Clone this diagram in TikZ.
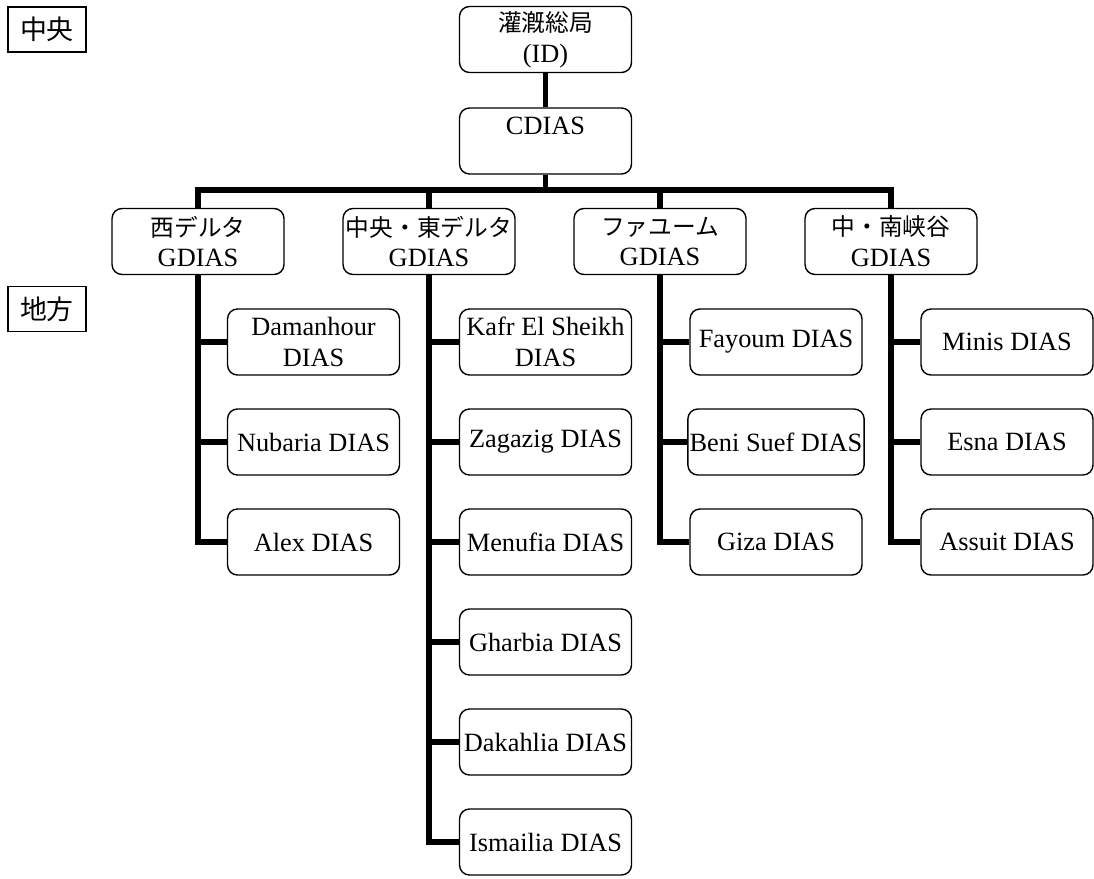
\documentclass[tikz,border=0pt]{standalone}
\usepackage{fontspec}
\setmainfont{Liberation Serif}
\newfontfamily\jp[Scale=0.9]{Noto Sans CJK JP}
\usetikzlibrary{positioning}

\begin{document}
\begin{tikzpicture}[x=0.02cm, y=-0.02cm,
        box/.style={draw, rounded corners=0.2cm, line width=0.8pt, minimum width=3.44cm, minimum height=1.32cm, inner sep=1pt, align=center, font=\fontsize{15}{17.5}\selectfont},
        tag/.style={draw, line width=1.1pt, minimum width=1.56cm, minimum height=0.9cm, inner sep=0pt, font=\jp\fontsize{17}{18}\selectfont},
        link/.style={line width=3.2pt}]
        \useasboundingbox (0,0) rectangle (1094,878);

        % level tags
        \node[tag] (central) at (47,29.5) {中央};
        \node[tag] (local) at (47,309) {地方};

        % head office
        \node[box] (id) at (545.5,39.5) {{\jp 灌漑総局}\\(ID)};
        \node[box] (cdias) at (545.5,141) {CDIAS\\~};

        % GDIAS
        \node[box] (west) at (198,241.5) {{\jp 西デルタ}\\GDIAS};
        \node[box] (east) at (429,241.5) {{\jp 中央・東デルタ}\\GDIAS};
        \node[box] (fayoum) at (660,241.5) {{\jp ファユーム}\\GDIAS};
        \node[box] (south) at (891,241.5) {{\jp 中・南峡谷}\\GDIAS};

        % DIAS
        \node[box] (damanhour) at (313.5,342) {Damanhour\\DIAS};
        \node[box] (nubaria) at (313.5,442) {Nubaria DIAS};
        \node[box] (alex) at (313.5,542) {Alex DIAS};

        \node[box] (kafr) at (545.5,342) {Kafr El Sheikh\\DIAS};
        \node[box] (zagazig) at (545.5,442) {Zagazig DIAS};
        \node[box] (menufia) at (545.5,542) {Menufia DIAS};
        \node[box] (gharbia) at (545.5,642) {Gharbia DIAS};
        \node[box] (dakahlia) at (545.5,742) {Dakahlia DIAS};
        \node[box] (ismailia) at (545.5,842) {Ismailia DIAS};

        \node[box] (fayoumd) at (776,342) {Fayoum DIAS};
        \node[box] (benisuef) at (776,442) {Beni Suef DIAS};
        \node[box] (giza) at (776,542) {Giza DIAS};

        \node[box] (minis) at (1007,342) {Minis DIAS};
        \node[box] (esna) at (1007,442) {Esna DIAS};
        \node[box] (assuit) at (1007,542) {Assuit DIAS};

        % ID -> CDIAS -> GDIAS
        \coordinate (bus) at (545.5,190);
        \draw[link] (id) -- (cdias);
        \draw[link] (cdias) -- (bus);
        \draw[link] (west.north) |- (bus) -| (south.north);
        \draw[link] (east.north) -- (east.north |- bus);
        \draw[link] (fayoum.north) -- (fayoum.north |- bus);

        % GDIAS -> DIAS
        \foreach \d in {damanhour, nubaria, alex}
            \draw[link] (west.south) |- (\d.west);
        \foreach \d in {kafr, zagazig, menufia, gharbia, dakahlia, ismailia}
            \draw[link] (east.south) |- (\d.west);
        \foreach \d in {fayoumd, benisuef, giza}
            \draw[link] (fayoum.south) |- (\d.west);
        \foreach \d in {minis, esna, assuit}
            \draw[link] (south.south) |- (\d.west);
\end{tikzpicture}
\end{document}
